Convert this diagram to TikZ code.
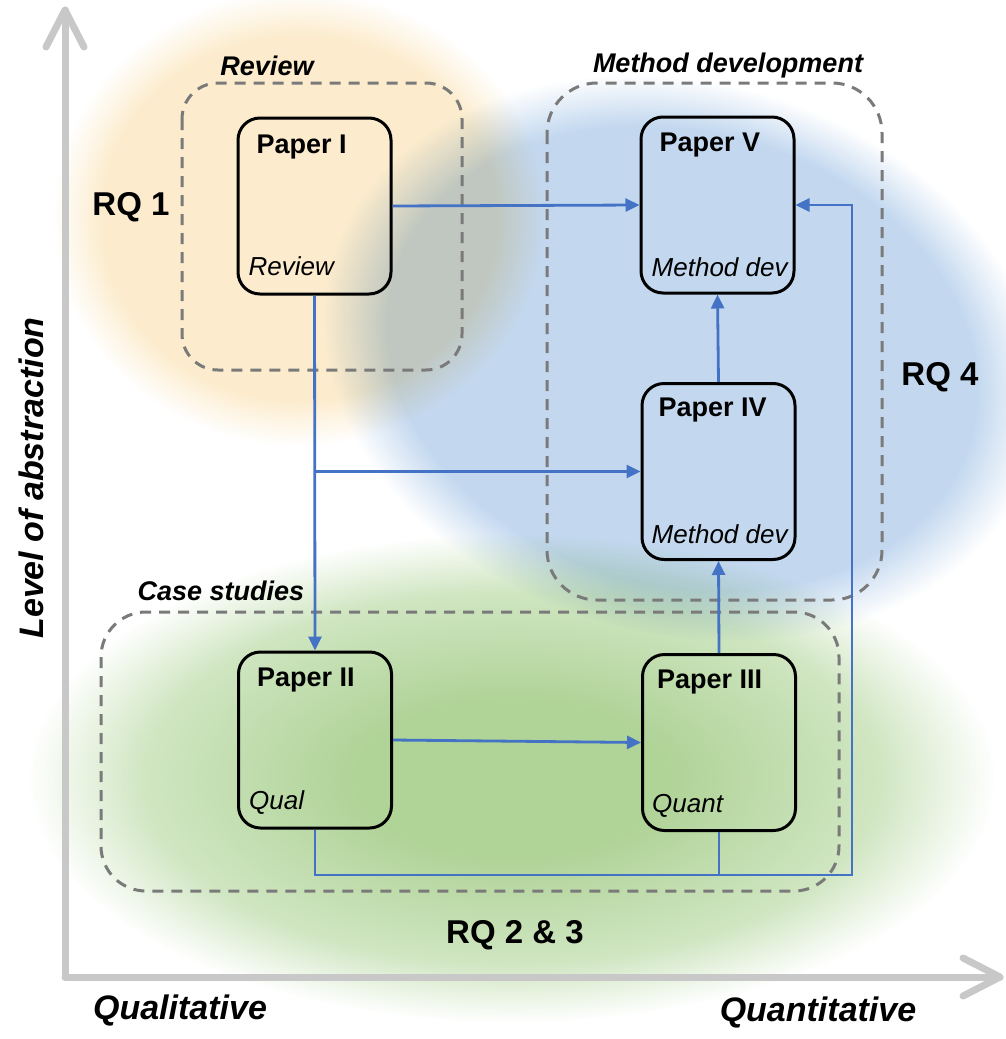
\documentclass[tikz,border=0pt]{standalone}
\usepackage{fontspec}
\setmainfont{Liberation Sans}
\usetikzlibrary{arrows.meta,calc}
\definecolor{conn}{RGB}{68,114,196}
\definecolor{axisgray}{RGB}{200,200,200}
\definecolor{dashgray}{RGB}{122,122,122}
\definecolor{orb}{RGB}{252,236,205}
\definecolor{blb}{RGB}{195,216,239}
\definecolor{grb}{RGB}{176,211,152}
\definecolor{grm}{RGB}{208,230,194}
\pgfdeclareradialshading{orshade}{\pgfpointorigin}{color(0bp)=(orb); color(20bp)=(orb); color(25bp)=(white); color(50bp)=(white)}
\pgfdeclareradialshading{blshade}{\pgfpointorigin}{color(0bp)=(blb); color(20.5bp)=(blb); color(25bp)=(white); color(50bp)=(white)}
\pgfdeclareradialshading{grshade}{\pgfpointorigin}{color(0bp)=(grb); color(8bp)=(grb); color(19bp)=(grm); color(25bp)=(white); color(50bp)=(white)}
\newcommand\fsz[1]{\fontsize{#1}{#1}\selectfont}
\tikzset{
  paper/.style={draw=black, line width=3pt, rounded corners=22pt, minimum width=153pt, minimum height=176pt, inner sep=0pt},
  ptitle/.style={anchor=base west, inner sep=0pt, font=\fsz{27}\bfseries},
  psub/.style={anchor=base west, inner sep=0pt, font=\fsz{26}\itshape},
  grouplabel/.style={inner sep=0pt, font=\fsz{27}\bfseries\itshape},
  rqlabel/.style={inner sep=0pt, font=\fsz{33}\bfseries},
  axislabel/.style={inner sep=0pt, font=\fsz{34}\bfseries\itshape},
  groupbox/.style={draw=dashgray, line width=3pt, dash pattern=on 11pt off 8pt, rounded corners=#1},
  conn/.style={draw=conn, line width=2.8pt},
  arr/.style={conn, -{Triangle[length=14pt,width=13pt]}},
  axisline/.style={draw=axisgray, line width=7pt, line cap=round, line join=round}
}
\begin{document}
\begin{tikzpicture}[x=1pt,y=-1pt]
\useasboundingbox (0,0) rectangle (1005,1039);
% soft colour blobs
\begin{scope}[blend mode=multiply]
  \begin{scope}[transform canvas={shift={(299,218)}, xscale=4.94, yscale=4.56}]
    \shade[shading=orshade] (0,0) circle [radius=50pt];
  \end{scope}
  \begin{scope}[transform canvas={shift={(682,358)}, rotate=-15, xscale=7.3, yscale=5.54}]
    \shade[shading=blshade] (0,0) circle [radius=50pt];
  \end{scope}
  \begin{scope}[transform canvas={shift={(512,778)}, xscale=9.7, yscale=4.9}]
    \shade[shading=grshade] (0,0) circle [radius=50pt];
  \end{scope}
\end{scope}
% axes
\coordinate (o) at (65,977);
\coordinate (ytop) at (65,10);
\coordinate (xend) at (1000,977);
\draw[axisline] (o) -- (ytop);
\draw[axisline] (o) -- (xend);
\draw[axisline] ($(ytop)+(-19,37)$) -- (ytop) -- ($(ytop)+(19,37)$);
\draw[axisline] ($(xend)+(-37,-19)$) -- (xend) -- ($(xend)+(-37,19)$);
\node[axislabel, rotate=90] (ylab) at (31,478) {Level of abstraction};
\node[axislabel] (xlab1) at (180,1010) {Qualitative};
\node[axislabel] (xlab2) at (818,1012) {Quantitative};
% group boxes
\draw[groupbox=36pt] (182,83) rectangle (462,370);
\draw[groupbox=50pt] (547,83) rectangle (882,600);
\draw[groupbox=45pt] (101,612) rectangle (839,891);
\node[grouplabel] (g1) at (267,66) {Review};
\node[grouplabel] (g2) at (728,66) {Method development};
\node[grouplabel] (g3) at (221,591) {Case studies};
% RQ labels
\node[rqlabel] (rq1) at (131,207) {RQ 1};
\node[rqlabel] (rq4) at (940,377) {RQ 4};
\node[rqlabel] (rq23) at (515,935) {RQ 2 \& 3};
% papers
\node[paper] (p1) at (314.5,206) {};
\node[paper] (p5) at (717.5,205) {};
\node[paper] (p4) at (718.5,471.5) {};
\node[paper] (p2) at (315,740) {};
\node[paper] (p3) at (719,742.5) {};
\node[ptitle] (t1) at ($(p1.north west)+(20,37)$) {Paper I};
\node[ptitle] (t5) at ($(p5.north west)+(20,36)$) {Paper V};
\node[ptitle] (t4) at ($(p4.north west)+(18,34)$) {Paper IV};
\node[ptitle] (t2) at ($(p2.north west)+(20,36)$) {Paper II};
\node[ptitle] (t3) at ($(p3.north west)+(16,35)$) {Paper III};
\node[psub] (s1) at ($(p1.south west)+(12,-20)$) {Review};
\node[psub] (s5) at ($(p5.south west)+(12,-18)$) {Method dev};
\node[psub] (s4) at ($(p4.south west)+(11,-18)$) {Method dev};
\node[psub] (s2) at ($(p2.south west)+(12,-20)$) {Qual};
\node[psub] (s3) at ($(p3.south west)+(11,-20)$) {Quant};
% connectors
\coordinate (j1) at (p1.south |- p4.west);
\coordinate (c1) at (852,875);
\draw[arr] (p1.east) -- (p5.west);
\draw[arr] (p1.south) -- (p2.north);
\draw[arr] (j1) -- (p4.west);
\draw[arr] (p2.east) -- (p3.west);
\draw[arr] (p3.north) -- (p4.south);
\draw[arr] (p4.north) -- (p5.south);
\draw[arr] (p2.south) |- (c1) |- (p5.east);
\draw[conn] (p3.south) -- (p3.south |- c1);
\end{tikzpicture}
\end{document}
